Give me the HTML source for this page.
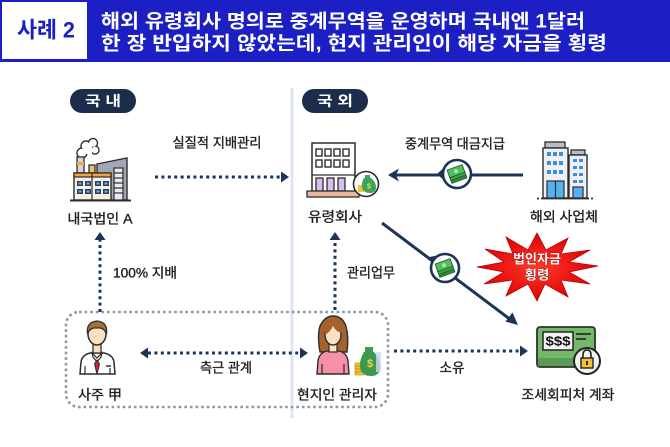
<!DOCTYPE html>
<html><head><meta charset="utf-8"><style>
html,body{margin:0;padding:0;background:#fff;}
svg{display:block;}
text{font-family:"Liberation Sans","Noto Sans CJK KR",sans-serif;}
</style></head><body>
<svg width="670" height="447" viewBox="0 0 670 447" xmlns="http://www.w3.org/2000/svg">
<!-- header -->
<rect x="0" y="0" width="670" height="62" fill="#1c20c4"/>
<rect x="1" y="1" width="87" height="59" fill="#fff" stroke="#1c20c4" stroke-width="2"/>
<text x="46" y="30" font-size="22" font-weight="700" fill="#1c20c4" text-anchor="middle" dominant-baseline="central" textLength="58" lengthAdjust="spacingAndGlyphs">사례 2</text>
<text x="101" y="22" font-size="19" font-weight="700" fill="#fff" dominant-baseline="central" textLength="484" lengthAdjust="spacingAndGlyphs">해외 유령회사 명의로 중계무역을 운영하며 국내엔 1달러</text>
<text x="101" y="44" font-size="19" font-weight="700" fill="#fff" dominant-baseline="central" textLength="506" lengthAdjust="spacingAndGlyphs">한 장 반입하지 않았는데, 현지 관리인이 해당 자금을 횡령</text>

<!-- divider -->
<line x1="292" y1="88" x2="292" y2="418" stroke="#dde6f1" stroke-width="3"/>

<!-- pills -->
<rect x="70" y="89" width="66" height="24" rx="12" fill="#1b2d4b"/>
<text x="103" y="101" font-size="14" font-weight="700" fill="#fff" text-anchor="middle" dominant-baseline="central" textLength="36" lengthAdjust="spacingAndGlyphs">국 내</text>
<rect x="302" y="89" width="66" height="24" rx="12" fill="#1b2d4b"/>
<text x="335" y="101" font-size="14" font-weight="700" fill="#fff" text-anchor="middle" dominant-baseline="central" textLength="36" lengthAdjust="spacingAndGlyphs">국 외</text>

<!-- dotted group box -->
<rect x="66" y="312" width="322" height="95" rx="13" fill="none" stroke="#8a98aa" stroke-width="2.6" stroke-dasharray="2.6 3"/>

<!-- connectors -->
<g stroke="#1c3557" stroke-width="3" fill="none" stroke-dasharray="3 3.4">
  <line x1="155" y1="177" x2="281" y2="177"/>
  <line x1="100" y1="312" x2="100" y2="240"/>
  <line x1="335" y1="310" x2="335" y2="240"/>
  <line x1="148" y1="353" x2="300" y2="353"/>
  <line x1="394" y1="351" x2="520" y2="351"/>
</g>
<g fill="#1c3557">
  <polygon points="281,171.5 289,177 281,182.5"/>
  <polygon points="94.5,240 100,232 105.5,240"/>
  <polygon points="329.5,240 335,232 340.5,240"/>
  <polygon points="148,347.5 140,353 148,358.5"/>
  <polygon points="300,347.5 308,353 300,358.5"/>
  <polygon points="520,345.5 528,351 520,356.5"/>
</g>
<!-- solid arrows -->
<line x1="523" y1="175" x2="395" y2="175" stroke="#1c3557" stroke-width="3"/>
<polygon points="388,175 399,168.5 396,175 399,181.5" fill="#1c3557"/>
<line x1="382" y1="223" x2="511" y2="320" stroke="#1c3557" stroke-width="3"/>
<polygon points="518,325 505.5,321.5 512.5,312.5" fill="#1c3557"/>

<!-- money pins -->
<g>
  <polygon points="437,174 449,163 449,185" fill="#1c3557"/>
  <circle cx="457" cy="174" r="14" fill="#fff" stroke="#1c3557" stroke-width="2.6"/>
  <g transform="translate(457,174) rotate(-20)">
    <rect x="-8" y="-1" width="16" height="8" fill="#2f8a3a" stroke="#1b5e26" stroke-width="0.8"/>
    <rect x="-8" y="-4" width="16" height="8" fill="#3fa34a" stroke="#1b5e26" stroke-width="0.8"/>
    <rect x="-8" y="-7" width="16" height="8" fill="#55be5c" stroke="#1b5e26" stroke-width="0.8"/>
    <circle cx="0" cy="-3" r="2" fill="#a9e5a4"/>
  </g>
</g>
<g>
  <polygon points="429,257 446,254 436,270" fill="#1c3557"/>
  <circle cx="445" cy="268" r="14" fill="#fff" stroke="#1c3557" stroke-width="2.6"/>
  <g transform="translate(445,268) rotate(-20)">
    <rect x="-8" y="-1" width="16" height="8" fill="#2f8a3a" stroke="#1b5e26" stroke-width="0.8"/>
    <rect x="-8" y="-4" width="16" height="8" fill="#3fa34a" stroke="#1b5e26" stroke-width="0.8"/>
    <rect x="-8" y="-7" width="16" height="8" fill="#55be5c" stroke="#1b5e26" stroke-width="0.8"/>
    <circle cx="0" cy="-3" r="2" fill="#a9e5a4"/>
  </g>
</g>

<!-- starburst -->
<defs>
  <radialGradient id="rg" cx="50%" cy="50%" r="60%">
    <stop offset="0" stop-color="#ff3a2a"/>
    <stop offset="0.6" stop-color="#e81010"/>
    <stop offset="1" stop-color="#b80000"/>
  </radialGradient>
</defs>
<polygon fill="url(#rg)" stroke="#c00000" stroke-width="0.8" points="598,266 569,272 590,284 561,280 568,297 545,284 537,301 528,284 506,296 513,280 484,284 504,272 477,267 504,262 485,249 513,254 506,237 528,250 537,233 546,250 568,238 561,254 590,250 569,262"/>
<text x="537" y="259" font-size="13" font-weight="700" fill="#fff" stroke="#7a0000" stroke-width="0.6" paint-order="stroke" text-anchor="middle" dominant-baseline="central" textLength="48" lengthAdjust="spacingAndGlyphs">법인자금</text>
<text x="537" y="275" font-size="13" font-weight="700" fill="#fff" stroke="#7a0000" stroke-width="0.6" paint-order="stroke" text-anchor="middle" dominant-baseline="central" textLength="25" lengthAdjust="spacingAndGlyphs">횡령</text>

<!-- factory icon -->
<g stroke="#2d2d2d" stroke-width="1.4">
  <circle cx="82" cy="153" r="5" fill="#fff"/>
  <circle cx="86" cy="146" r="5" fill="#fff"/>
  <circle cx="93" cy="143" r="4.5" fill="#fff"/>
  <circle cx="95" cy="150" r="4" fill="#fff"/>
</g>
<g fill="#fff">
  <circle cx="82" cy="153" r="4.2"/>
  <circle cx="86" cy="146" r="4.2"/>
  <circle cx="93" cy="143" r="3.7"/>
  <circle cx="95" cy="150" r="3.2"/>
  <rect x="84" y="145" width="8" height="9"/>
</g>
<rect x="77" y="157" width="7" height="16" fill="#d2d5dc" stroke="#2d2d2d" stroke-width="1.3"/>
<rect x="77" y="162" width="7" height="3" fill="#f0a43c"/>
<rect x="89" y="165" width="6" height="8" fill="#f3bf6c" stroke="#2d2d2d" stroke-width="1.3"/>
<polygon points="97,164 127,158 127,200 97,200" fill="#a0a8b8" stroke="#2d2d2d" stroke-width="1.4"/>
<rect x="114" y="168" width="9" height="32" fill="#e8eaef" stroke="#2d2d2d" stroke-width="1.2"/>
<g stroke="#2d2d2d" stroke-width="1.2">
  <line x1="114" y1="173" x2="123" y2="173"/><line x1="114" y1="178" x2="123" y2="178"/>
  <line x1="114" y1="183" x2="123" y2="183"/><line x1="114" y1="188" x2="123" y2="188"/>
  <line x1="114" y1="193" x2="123" y2="193"/>
</g>
<rect x="74" y="173" width="37" height="27" fill="#f6efe3" stroke="#2d2d2d" stroke-width="1.4"/>
<rect x="74" y="173" width="37" height="4" fill="#f0a43c" stroke="#2d2d2d" stroke-width="1.2"/>
<line x1="92" y1="173" x2="92" y2="200" stroke="#2d2d2d" stroke-width="1.2"/>
<g fill="#2b3f66">
  <rect x="77" y="181" width="6" height="5"/><rect x="85" y="181" width="6" height="5"/>
  <rect x="77" y="189" width="6" height="5"/><rect x="85" y="189" width="6" height="5"/>
  <rect x="95" y="181" width="6" height="5"/><rect x="103" y="181" width="6" height="5"/>
  <rect x="95" y="189" width="6" height="5"/><rect x="103" y="189" width="6" height="5"/>
</g>
<g fill="#6fb0e8">
  <rect x="78.5" y="182.5" width="3" height="2"/><rect x="86.5" y="182.5" width="3" height="2"/>
  <rect x="78.5" y="190.5" width="3" height="2"/><rect x="86.5" y="190.5" width="3" height="2"/>
  <rect x="96.5" y="182.5" width="3" height="2"/><rect x="104.5" y="182.5" width="3" height="2"/>
  <rect x="96.5" y="190.5" width="3" height="2"/><rect x="104.5" y="190.5" width="3" height="2"/>
</g>
<line x1="70" y1="200.5" x2="131" y2="200.5" stroke="#2d2d2d" stroke-width="2"/>

<!-- ghost company building -->
<rect x="312" y="143" width="43" height="50" fill="#fff" stroke="#2d2d2d" stroke-width="1.5"/>
<g fill="#fff" stroke="#2d2d2d" stroke-width="1.4">
  <rect x="316" y="149" width="6" height="7"/><rect x="325" y="149" width="6" height="7"/>
  <rect x="334" y="149" width="6" height="7"/><rect x="343" y="149" width="6" height="7"/>
  <rect x="316" y="160" width="6" height="7"/><rect x="325" y="160" width="6" height="7"/>
  <rect x="334" y="160" width="6" height="7"/><rect x="343" y="160" width="6" height="7"/>
</g>
<g fill="#d9bdec" stroke="#2d2d2d" stroke-width="1.3">
  <rect x="316" y="178" width="7" height="13"/><rect x="327" y="178" width="7" height="13"/>
  <rect x="338" y="178" width="7" height="13"/>
</g>
<line x1="312" y1="175" x2="355" y2="175" stroke="#2d2d2d" stroke-width="1.3"/>
<rect x="307" y="191" width="52" height="6" fill="#e9b99c" stroke="#2d2d2d" stroke-width="1.3"/>
<circle cx="366" cy="184" r="12.5" fill="#fff" stroke="#2d2d2d" stroke-width="1.6"/>
<rect x="358" y="185" width="6" height="7" fill="#f2c230"/>
<path d="M364 178 Q361 183 362 188 Q364 193 370 193 Q376 193 376 187 Q376 182 371 178 Z" fill="#3aa55a"/>
<rect x="365" y="175" width="5" height="3" fill="#3aa55a"/>
<text x="369" y="187" font-size="7" font-weight="700" fill="#f6d44a" text-anchor="middle" dominant-baseline="central">$</text>

<!-- overseas business building -->
<rect x="545" y="142" width="20" height="6" fill="#b8bcc4" stroke="#2d2d2d" stroke-width="1.3"/>
<rect x="543" y="148" width="25" height="50" fill="#eef0f3" stroke="#2d2d2d" stroke-width="1.4"/>
<rect x="571" y="150" width="14" height="5" fill="#b8bcc4" stroke="#2d2d2d" stroke-width="1.3"/>
<rect x="569" y="155" width="18" height="43" fill="#eef0f3" stroke="#2d2d2d" stroke-width="1.4"/>
<g fill="#3a8fd8">
  <rect x="547" y="152" width="4" height="4"/><rect x="553" y="152" width="4" height="4"/><rect x="559" y="152" width="4" height="4"/>
  <rect x="547" y="161" width="4" height="4"/><rect x="553" y="161" width="4" height="4"/><rect x="559" y="161" width="4" height="4"/>
  <rect x="547" y="170" width="4" height="4"/><rect x="553" y="170" width="4" height="4"/><rect x="559" y="170" width="4" height="4"/>
  <rect x="573" y="159" width="4" height="3"/><rect x="579" y="159" width="4" height="3"/>
  <rect x="573" y="166" width="4" height="3"/><rect x="579" y="166" width="4" height="3"/>
  <rect x="573" y="173" width="4" height="3"/><rect x="579" y="173" width="4" height="3"/>
  <rect x="573" y="180" width="4" height="3"/><rect x="579" y="180" width="4" height="3"/>
</g>
<rect x="547" y="181" width="17" height="17" fill="#55b2ec" stroke="#2d2d2d" stroke-width="1.2"/>
<line x1="555.5" y1="181" x2="555.5" y2="198" stroke="#2d2d2d" stroke-width="1.2"/>
<rect x="573" y="187" width="10" height="11" fill="#55b2ec" stroke="#2d2d2d" stroke-width="1.2"/>
<line x1="537" y1="198.5" x2="594" y2="198.5" stroke="#2d2d2d" stroke-width="1.8" stroke-dasharray="2 2 48 2 2"/>

<!-- card icon -->
<rect x="537" y="327" width="58" height="40" rx="3" fill="#74b86c" stroke="#2a3328" stroke-width="1.8"/>
<rect x="538" y="358" width="56" height="8" fill="#5a9c55"/>
<rect x="543" y="332" width="30" height="18" fill="#f3f3f3" stroke="#222" stroke-width="1.5"/>
<text x="558" y="341.5" font-size="12.5" font-weight="700" fill="#111" text-anchor="middle" dominant-baseline="central" textLength="25" lengthAdjust="spacingAndGlyphs">$$$</text>
<line x1="576" y1="334" x2="591" y2="334" stroke="#222" stroke-width="1.6"/>
<line x1="576" y1="339" x2="586" y2="339" stroke="#222" stroke-width="1.6"/>
<circle cx="587" cy="361" r="13" fill="#f2f2f2" stroke="#222" stroke-width="2"/>
<path d="M583 359 V355 Q583 350 587 350 Q591 350 591 355 V359" fill="none" stroke="#222" stroke-width="1.6"/>
<rect x="581" y="358" width="12" height="10" fill="#f2c230" stroke="#222" stroke-width="1.4"/>
<rect x="586" y="361" width="2" height="4" fill="#222"/>

<!-- person 사주 -->
<path d="M80 374 L81 362 Q82 355 90 353 L104 353 Q113 355 114 362 L115 374 Z" fill="#fff" stroke="#2d2d2d" stroke-width="1.5"/>
<rect x="93" y="344" width="8" height="9" fill="#fbe0c4" stroke="#2d2d2d" stroke-width="1.3"/>
<polygon points="92,353 97,358 102,353 101,357 97,362 93,357" fill="#fff" stroke="#2d2d2d" stroke-width="1.2"/>
<polygon points="97,360 94.5,364 97,374 99.5,364" fill="#c8283a" stroke="#2d2d2d" stroke-width="1"/>
<ellipse cx="97" cy="334" rx="9" ry="11" fill="#fbe0c4" stroke="#2d2d2d" stroke-width="1.5"/>
<path d="M87.5 334 Q86 322 97 321 Q108 322 106.5 334 Q104 327 97 328 Q90 327 87.5 334 Z" fill="#a86f3a" stroke="#2d2d2d" stroke-width="1.3"/>
<line x1="106" y1="366" x2="111" y2="366" stroke="#2d2d2d" stroke-width="1.5"/>
<line x1="85" y1="366" x2="85" y2="374" stroke="#2d2d2d" stroke-width="1.2"/>
<line x1="110" y1="368" x2="110" y2="374" stroke="#2d2d2d" stroke-width="1.2"/>

<!-- woman -->
<path d="M320 352 Q317 336 320 326 Q325 316 333 316 Q342 316 346 326 Q349 338 347 352 Z" fill="#a5622e" stroke="#2d2d2d" stroke-width="1.4"/>
<path d="M317 374 L318 361 Q319 353 327 351 L339 351 Q347 353 348 361 L349 374 Z" fill="#f690a8" stroke="#2d2d2d" stroke-width="1.4"/>
<rect x="329" y="343" width="8" height="9" fill="#fbe0c4" stroke="#2d2d2d" stroke-width="1.2"/>
<ellipse cx="333" cy="335" rx="8" ry="10" fill="#fbe0c4" stroke="#2d2d2d" stroke-width="1.4"/>
<path d="M325 335 Q324 324 333 323 Q341 324 342 333 Q336 332 333 326 Q330 332 325 335 Z" fill="#a5622e"/>
<line x1="322" y1="364" x2="322" y2="374" stroke="#2d2d2d" stroke-width="1.2"/>
<line x1="344" y1="364" x2="344" y2="374" stroke="#2d2d2d" stroke-width="1.2"/>
<!-- money bag -->
<g>
  <rect x="355" y="366" width="9" height="3" fill="#f2c230" stroke="#b8860b" stroke-width="0.6"/>
  <rect x="355" y="369" width="9" height="3" fill="#f2c230" stroke="#b8860b" stroke-width="0.6"/>
  <rect x="355" y="372" width="9" height="3" fill="#f2c230" stroke="#b8860b" stroke-width="0.6"/>
  <rect x="355" y="363" width="9" height="3" fill="#f2c230" stroke="#b8860b" stroke-width="0.6"/>
  <path d="M364 352 Q358 362 361 371 Q364 376 371 376 Q379 376 380 369 Q381 360 374 352 Z" fill="#3b9a4b"/>
  <rect x="365" y="347" width="8" height="5" fill="#3b9a4b"/>
  <text x="370" y="364" font-size="11" font-weight="700" fill="#f6d44a" text-anchor="middle" dominant-baseline="central">$</text>
  <rect x="376" y="352" width="5" height="20" fill="#c9d8f2" opacity="0.8"/>
</g>

<!-- labels -->
<g font-size="13.5" fill="#1e1e1e" stroke="#1e1e1e" stroke-width="0.35" text-anchor="middle" dominant-baseline="central">
  <text x="217" y="143" textLength="89" lengthAdjust="spacingAndGlyphs">실질적 지배관리</text>
  <text x="100" y="219" textLength="65" lengthAdjust="spacingAndGlyphs">내국법인 A</text>
  <text x="335" y="217" textLength="54" lengthAdjust="spacingAndGlyphs">유령회사</text>
  <text x="455" y="144" textLength="100" lengthAdjust="spacingAndGlyphs">중계무역 대금지급</text>
  <text x="564" y="217" textLength="68" lengthAdjust="spacingAndGlyphs">해외 사업체</text>
  <text x="145" y="273" textLength="64" lengthAdjust="spacingAndGlyphs">100% 지배</text>
  <text x="371" y="273" textLength="48" lengthAdjust="spacingAndGlyphs">관리업무</text>
  <text x="226" y="368" textLength="52" lengthAdjust="spacingAndGlyphs">측근 관계</text>
  <text x="452" y="368" textLength="25" lengthAdjust="spacingAndGlyphs">소유</text>
  <text x="100" y="395" textLength="44" lengthAdjust="spacingAndGlyphs">사주 甲</text>
  <text x="337" y="395" textLength="80" lengthAdjust="spacingAndGlyphs">현지인 관리자</text>
  <text x="568" y="395" textLength="93" lengthAdjust="spacingAndGlyphs">조세회피처 계좌</text>
</g>
</svg>
</body></html>
